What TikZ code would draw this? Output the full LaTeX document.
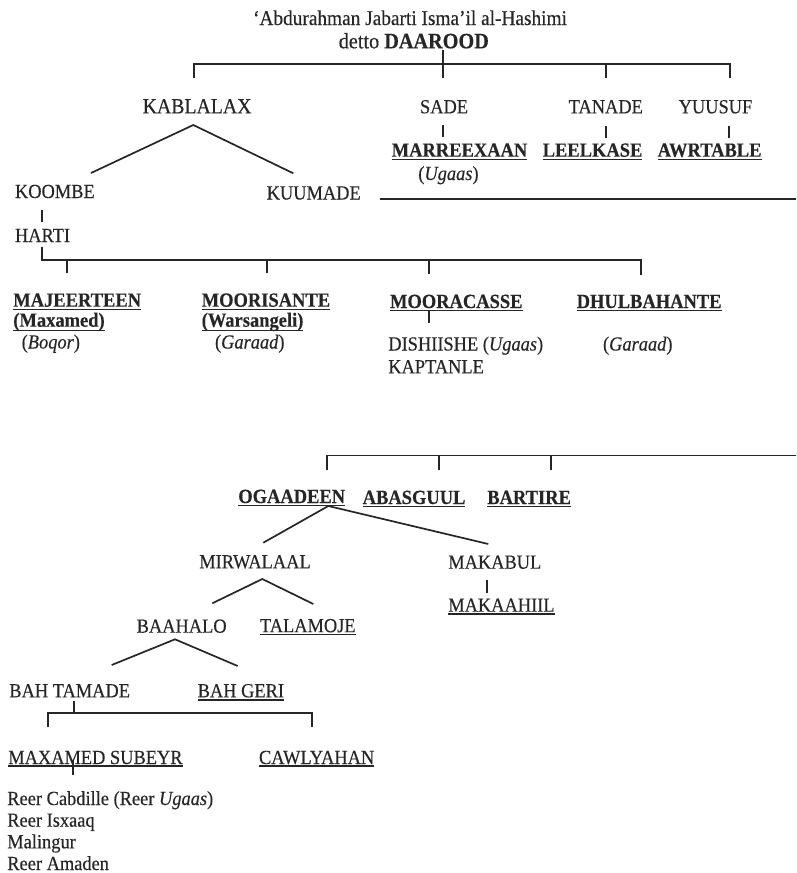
\documentclass[tikz,border=0pt]{standalone}
\usepackage{fontspec}
\setmainfont{Liberation Serif}[FakeStretch=0.92,
  UprightFeatures={FakeBold=0.35}, ItalicFeatures={FakeBold=0.35},
  BoldFeatures={FakeBold=0.35}]
\usetikzlibrary{calc}
\definecolor{ink}{HTML}{262626}
\tikzset{
  lbl/.style={anchor=base west, inner sep=0pt, outer sep=0pt, text=ink,
              font=\fontsize{20}{23}\selectfont},
  clan/.style={lbl, font=\fontsize{20.1}{23}\selectfont\bfseries},
  title/.style={lbl, anchor=base},
  link/.style={draw=ink, line width=1.7pt, line cap=butt, line join=miter},
  uline/.style={draw=ink, line width=1.3pt},
}
% underline a named label, the rule sitting #2 below its baseline
\newcommand\ulabel[2][2.8pt]{%
  \draw[uline] ([yshift=-#1]#2.base west) -- ([yshift=-#1]#2.base east);}
\begin{document}
\begin{tikzpicture}[x=1pt,y=-1pt]
\useasboundingbox (0,0) rectangle (796,873);

% ---- founder ----
\node[title, font=\fontsize{21}{24}\selectfont] (founder) at (410,25)
  {‘Abdurahman Jabarti Isma’il al-Hashimi};
\node[title, font=\fontsize{22}{24}\selectfont] (daarood) at (413.8,48.3)
  {detto \textbf{DAAROOD}};

% ---- first generation ----
\node[lbl, font=\fontsize{21.5}{23}\selectfont] (kablalax) at (142.7,113.3) {KABLALAX};
\node[lbl] (sade)   at (420,113.3)   {SADE};
\node[lbl] (tanade) at (568.7,113.3) {TANADE};
\node[lbl] (yuusuf) at (678.7,113.3) {YUUSUF};

\node[clan] (marreexaan) at (391.7,156.7) {MARREEXAAN};
\node[clan] (leelkase)   at (542.7,156.7) {LEELKASE};
\node[clan] (awrtable)   at (657.7,156.7) {AWRTABLE};
\node[lbl]  (ugaasA)     at (418.3,180)   {(\textit{Ugaas})};

\node[lbl] (koombe)  at (15,198)     {KOOMBE};
\node[lbl] (kuumade) at (266.7,199.5) {KUUMADE};
\node[lbl] (harti)   at (15,242)     {HARTI};

% ---- Harti branches ----
\node[clan] (majeerteen)  at (13.3,306.7)  {MAJEERTEEN};
\node[clan] (maxamed)     at (13.3,326.7)  {(Maxamed)};
\node[lbl]  (boqor)       at (21.7,348.5)  {(\textit{Boqor})};
\node[clan] (moorisante)  at (201.7,306.7) {MOORISANTE};
\node[clan] (warsangeli)  at (201.7,326.7) {(Warsangeli)};
\node[lbl]  (garaadA)     at (215,348.5)   {(\textit{Garaad})};
\node[clan] (mooracasse)  at (390,308)     {MOORACASSE};
\node[lbl]  (dishiishe)   at (388.3,350.5) {DISHIISHE (\textit{Ugaas})};
\node[lbl]  (kaptanle)    at (388.3,373.3) {KAPTANLE};
\node[clan] (dhulbahante) at (576.7,308)   {DHULBAHANTE};
\node[lbl]  (garaadB)     at (603,350.5)   {(\textit{Garaad})};

% ---- Kuumade branches ----
\node[clan] (ogaadeen) at (238.3,503) {OGAADEEN};
\node[clan] (abasguul) at (362.7,504) {ABASGUUL};
\node[clan] (bartire)  at (487.3,504) {BARTIRE};

\node[lbl] (mirwalaal) at (199.3,568.3) {MIRWALAAL};
\node[lbl] (makabul)   at (448.3,568.7) {MAKABUL};
\node[lbl] (makaahiil) at (448.3,611.7) {MAKAAHIIL};
\node[lbl] (baahalo)   at (136.7,632.7) {BAAHALO};
\node[lbl] (talamoje)  at (260,632.2)   {TALAMOJE};
\node[lbl] (bahtamade) at (9.3,697.3)   {BAH TAMADE};
\node[lbl] (bahgeri)   at (197.7,697.3) {BAH GERI};
\node[lbl] (maxsubeyr) at (8.3,764)     {MAXAMED SUBEYR};
\node[lbl] (cawlyahan) at (259,764)     {CAWLYAHAN};

\node[lbl] (reerA) at (7.3,805)   {Reer Cabdille (Reer \textit{Ugaas})};
\node[lbl] (reerB) at (7.3,826.7) {Reer Isxaaq};
\node[lbl] (reerC) at (7.3,848.3) {Malingur};
\node[lbl] (reerD) at (7.3,870)   {Reer Amaden};

% ---- underlines ----
\ulabel{marreexaan}\ulabel{leelkase}\ulabel{awrtable}
\ulabel{majeerteen}\ulabel[4pt]{maxamed}
\ulabel{moorisante}\ulabel[4pt]{warsangeli}
\ulabel{mooracasse}\ulabel{dhulbahante}
\ulabel{ogaadeen}\ulabel{abasguul}\ulabel{bartire}
\ulabel[2.4pt]{makaahiil}\ulabel[2pt]{talamoje}\ulabel[2.6pt]{bahgeri}
\ulabel[2pt]{maxsubeyr}\ulabel[2pt]{cawlyahan}

% ---- junction points ----
\coordinate (dStem)  at (443.3,50);
\coordinate (dBarL)  at (194.3,64);
\coordinate (dBarR)  at (730,64);
\coordinate (dKab)   at (194.3,77.5);
\coordinate (dSade)  at (443.3,77.5);
\coordinate (dTan)   at (606,77.5);
\coordinate (dYuu)   at (730,78);

\coordinate (kabTop) at (193.3,125);
\coordinate (kabL)   at (91,173);
\coordinate (kabR)   at (293.3,173.3);

\coordinate (kuuL) at (380,199.3);
\coordinate (kuuR) at (796,199.3);

\coordinate (hBarTop) at (41.7,246.5);
\coordinate (hBarL)   at (41.7,260);
\coordinate (hBarR)   at (641,260);
\coordinate (hDhul)   at (641,275);
\coordinate (hMaj)    at (66.7,273);
\coordinate (hMoori)  at (266.7,273);
\coordinate (hMoora)  at (429.3,274);

\coordinate (kBarL)  at (326.7,455.5);
\coordinate (kBarR)  at (796,455.5);
\coordinate (kOga)   at (326.7,470);
\coordinate (kAba)   at (439.3,470);
\coordinate (kBar)   at (551.3,470);

\coordinate (ogaTop) at (328.3,506);
\coordinate (ogaL)   at (263.3,542.7);
\coordinate (ogaR)   at (488.3,544);

\coordinate (mirTop) at (262.3,579);
\coordinate (mirL)   at (212.3,603.3);
\coordinate (mirR)   at (313.3,604);

\coordinate (baaTop) at (175,639.3);
\coordinate (baaL)   at (111.7,665);
\coordinate (baaR)   at (237.7,666);

\coordinate (bBarL) at (48.3,713.3);
\coordinate (bBarR) at (311.7,713.3);

% ---- connectors ----
\draw[link] (dKab) -- (dBarL) -- (dBarR) -- (dYuu);
\draw[link] (dStem) -- (dSade);
\draw[link] (dTan |- dBarL) -- (dTan);

\draw[link] (kabL) -- (kabTop) -- (kabR);
\draw[link] (443.3,125) coordinate (sadeT) -- (443.3,137) coordinate (marT);
\draw[link] (606,126) coordinate (tanT) -- (606,138) coordinate (leeT);
\draw[link] (729.3,126) coordinate (yuuT) -- (729.3,138) coordinate (awrT);

\draw[link] (kuuL) -- (kuuR);
\draw[link] (42.3,210) coordinate (koomT) -- (42.3,222) coordinate (hartT);

\draw[link] (hBarTop) -- (hBarL) -- (hBarR) -- (hDhul);
\draw[link] (hMaj |- hBarL) -- (hMaj);
\draw[link] (hMoori |- hBarL) -- (hMoori);
\draw[link] (hMoora |- hBarL) -- (hMoora);
\draw[link] (429.3,310) coordinate (mooraT) -- (429.3,323) coordinate (dishT);

\draw[link] (kOga) -- (kBarL) -- (kBarR);
\draw[link] (kAba |- kBarL) -- (kAba);
\draw[link] (kBar |- kBarL) -- (kBar);

\draw[link] (ogaL) -- (ogaTop) -- (ogaR);
\draw[link] (487.3,580) coordinate (makT) -- (487.3,593) coordinate (makaT);
\draw[link] (mirL) -- (mirTop) -- (mirR);
\draw[link] (baaL) -- (baaTop) -- (baaR);

\draw[link] (74,700.7) coordinate (bahT) -- (74,713.3);
\draw[link] ($(bBarL)+(0,13.7)$) -- (bBarL) -- (bBarR) -- ($(bBarR)+(0,13.7)$);
\draw[link] (72.7,760) coordinate (maxT) -- (72.7,775) coordinate (reerT);
\end{tikzpicture}
\end{document}
